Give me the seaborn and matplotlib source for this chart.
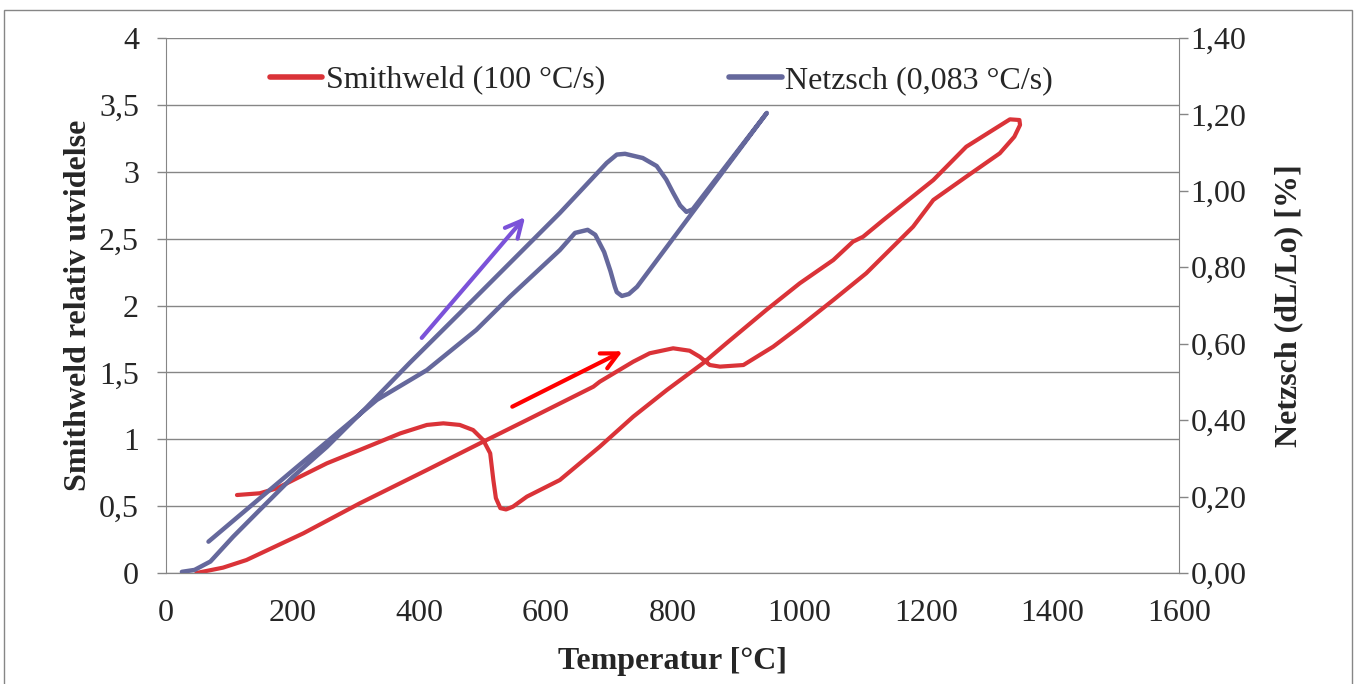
import pandas as pd
import seaborn as sns
import matplotlib.pyplot as plt
from matplotlib.lines import Line2D
from matplotlib.patches import Rectangle

# Smithweld (left axis) - heating, loop at top, cooling back down
smith_temp = [48, 90, 127, 217, 306, 412, 496, 570, 675, 685, 738, 764, 801, 827,
              843, 859, 875, 912, 959, 1001, 1054, 1106, 1159, 1180, 1212, 1264,
              1317, 1340, 1349, 1348, 1333, 1306, 1264, 1212, 1133, 1101, 1085,
              1054, 1001, 948, 885, 848, 791, 738, 685, 622, 570, 548, 537, 528,
              521, 517, 512, 501, 485, 464, 438, 412, 370, 306, 254, 201, 175, 148, 112]
smith_exp = [0.0, 0.04, 0.097, 0.297, 0.521, 0.770, 0.970, 1.144, 1.393, 1.430,
             1.580, 1.643, 1.680, 1.662, 1.617, 1.555, 1.543, 1.555, 1.692, 1.842,
             2.041, 2.241, 2.490, 2.589, 2.789, 2.963, 3.138, 3.262, 3.350, 3.387,
             3.392, 3.312, 3.187, 2.938, 2.639, 2.514, 2.477, 2.340, 2.166, 1.966,
             1.717, 1.568, 1.368, 1.169, 0.944, 0.695, 0.571, 0.496, 0.475, 0.485,
             0.560, 0.695, 0.895, 0.994, 1.069, 1.107, 1.119, 1.107, 1.044, 0.920,
             0.820, 0.695, 0.633, 0.596, 0.583]

# Netzsch (right axis, %)
net_temp = [25, 45, 70, 106, 148, 200, 254, 317, 385, 464, 543, 622, 696, 712,
            725, 753, 775, 790, 801, 812, 822, 832, 949, 744, 731, 720, 712, 709,
            702, 692, 678, 666, 646, 622, 543, 490, 412, 333, 200, 67]
net_dl = [0.003, 0.008, 0.030, 0.095, 0.165, 0.251, 0.330, 0.434, 0.550, 0.680,
          0.811, 0.942, 1.073, 1.095, 1.097, 1.086, 1.065, 1.030, 0.995, 0.962,
          0.945, 0.952, 1.204, 0.749, 0.730, 0.725, 0.735, 0.749, 0.790, 0.840,
          0.885, 0.898, 0.890, 0.845, 0.723, 0.636, 0.531, 0.453, 0.268, 0.082]

# direction arrows (start, end) in data units of the left axis
arrow_net = [(401, 1.742), (570, 2.677)]
arrow_smith = [(543, 1.234), (725, 1.667)]

x_ticks = [0, 200, 400, 600, 800, 1000, 1200, 1400, 1600]
left_ticks = [0, 0.5, 1, 1.5, 2, 2.5, 3, 3.5, 4]
left_labels = ["0", "0,5", "1", "1,5", "2", "2,5", "3", "3,5", "4"]
right_ticks = [0, 0.2, 0.4, 0.6, 0.8, 1.0, 1.2, 1.4]
right_labels = ["0,00", "0,20", "0,40", "0,60", "0,80", "1,00", "1,20", "1,40"]

red = "#DA3338"
blue = "#65689C"
grey = "#868686"
fs = 23

sns.set_style("white")
plt.rcParams["font.family"] = ["Liberation Serif", "DejaVu Serif"]
plt.rcParams["font.size"] = fs

smith_df = pd.DataFrame({"temp": smith_temp, "exp": smith_exp})
net_df = pd.DataFrame({"temp": net_temp, "dl": net_dl})

fig = plt.figure(figsize=(13.59, 6.84), dpi=100)
ax = fig.add_axes([0.1222, 0.1623, 0.7453, 0.7821])
ax2 = ax.twinx()

sns.lineplot(data=smith_df, x="temp", y="exp", sort=False, estimator=None,
             color=red, lw=3, ax=ax)
sns.lineplot(data=net_df, x="temp", y="dl", sort=False, estimator=None,
             color=blue, lw=3.2, ax=ax2)

ax.set_xlim(0, 1600)
ax.set_ylim(0, 4)
ax2.set_ylim(0, 1.4)
ax.set_xticks(x_ticks)
ax.set_xticklabels([str(t) for t in x_ticks])
ax.set_yticks(left_ticks)
ax.set_yticklabels(left_labels)
ax2.set_yticks(right_ticks)
ax2.set_yticklabels(right_labels)

ax.yaxis.grid(True, color=grey, lw=1)
ax.set_axisbelow(True)
for a in (ax, ax2):
    a.spines["top"].set_visible(False)
    for s in ("left", "right", "bottom"):
        a.spines[s].set_color(grey)
    a.tick_params(direction="out", length=6.5, color=grey, width=1,
                  labelsize=fs)
ax.tick_params(axis="y", pad=13)
ax.tick_params(axis="x", pad=12)
ax2.tick_params(axis="y", pad=2)
ax2.spines["left"].set_visible(False)
ax.spines["right"].set_visible(False)

ax.set_xlabel("Temperatur [°C]", fontweight="bold", fontsize=fs, labelpad=14)
ax.set_ylabel("Smithweld relativ utvidelse", fontweight="bold", fontsize=fs,
              labelpad=4)
ax2.set_ylabel("Netzsch (dL/Lo) [%]", fontweight="bold", fontsize=fs,
               labelpad=20)

ax.annotate("", xy=arrow_net[1], xytext=arrow_net[0],
            arrowprops=dict(arrowstyle="->", color="#7B52D9", lw=3,
                            mutation_scale=30), zorder=5)
ax.annotate("", xy=arrow_smith[1], xytext=arrow_smith[0],
            arrowprops=dict(arrowstyle="->", color="#FF0000", lw=3,
                            mutation_scale=30), zorder=5)

handles = [Line2D([], [], color=red, lw=4), Line2D([], [], color=blue, lw=4)]
ax2.legend(handles, ["Smithweld (100 °C/s)", "Netzsch (0,083 °C/s)"],
           loc="center", bbox_to_anchor=(0.489, 0.921), ncol=2, frameon=False,
           fontsize=fs, handlelength=1.65, handletextpad=0.1,
           columnspacing=3.9)

fig.patches.append(Rectangle((0.003, -0.01), 0.992, 0.9954, transform=fig.transFigure,
                             fill=False, edgecolor=grey, lw=1))

plt.savefig("out.png", dpi=100)
